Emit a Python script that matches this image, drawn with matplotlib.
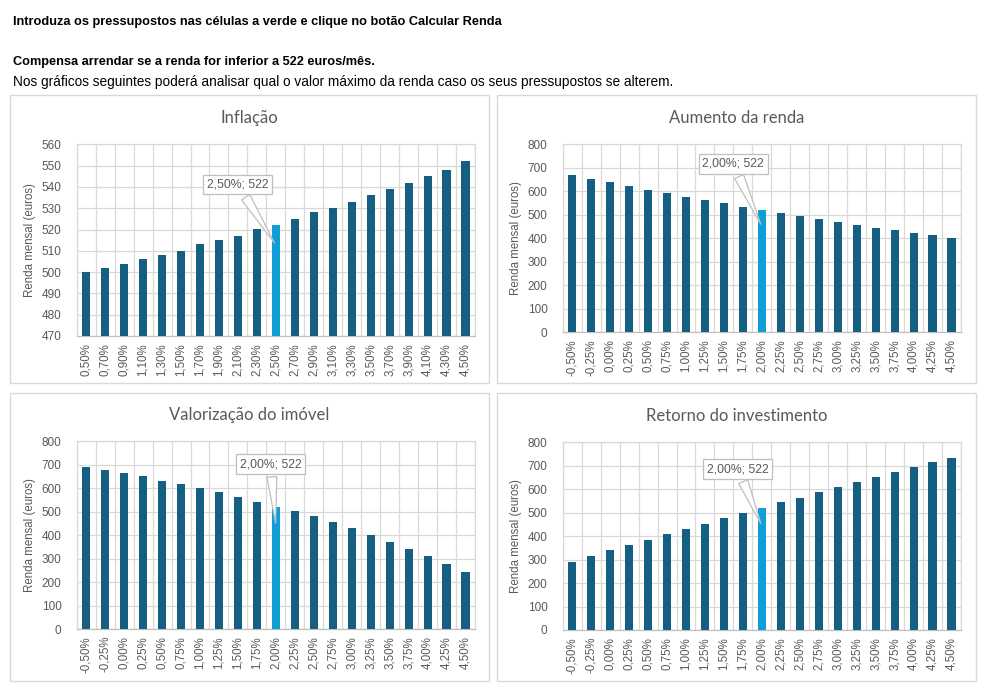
import matplotlib
matplotlib.use("Agg")
import matplotlib.pyplot as plt
from matplotlib.patches import Rectangle
from matplotlib.transforms import offset_copy

W, H = 989, 691

# ---------------- data ----------------
infl_labels = ["0,50%", "0,70%", "0,90%", "1,10%", "1,30%", "1,50%", "1,70%", "1,90%", "2,10%", "2,30%",
               "2,50%", "2,70%", "2,90%", "3,10%", "3,30%", "3,50%", "3,70%", "3,90%", "4,10%", "4,30%", "4,50%"]
infl_values = [500, 502, 504, 506, 508, 510, 513, 515, 517, 520, 522, 525, 528, 530, 533, 536, 539, 542, 545, 548, 552]

pct_labels = ["-0,50%", "-0,25%", "0,00%", "0,25%", "0,50%", "0,75%", "1,00%", "1,25%", "1,50%", "1,75%",
              "2,00%", "2,25%", "2,50%", "2,75%", "3,00%", "3,25%", "3,50%", "3,75%", "4,00%", "4,25%", "4,50%"]
aumento_values = [670, 653, 640, 623, 607, 593, 577, 563, 551, 535, 522, 509, 497, 483, 471, 458, 445, 436, 424, 412, 403]
valor_values = [691, 678, 666, 650, 632, 619, 602, 582, 564, 543, 522, 501, 480, 455, 429, 399, 369, 340, 310, 276, 241]
retorno_values = [291, 314, 339, 364, 385, 410, 432, 453, 479, 500, 522, 547, 564, 590, 610, 632, 653, 675, 695, 716, 733]

highlight_idx = 10
titles = ["Inflação", "Aumento da renda", "Valorização do imóvel", "Retorno do investimento"]
ylims = [(470, 560, 10), (0, 800, 100), (0, 800, 100), (0, 800, 100)]
callouts = ["2,50%; 522", "2,00%; 522", "2,00%; 522", "2,00%; 522"]

# ---------------- style ----------------
DARK = "#156082"
LIGHT = "#0F9ED5"
GRID = "#D9D9D9"
TXT = "#595959"
TICKFONT = ["Liberation Sans", "DejaVu Sans"]
TITLEFONT = ["Lato", "DejaVu Sans"]
HEADFONT = ["Liberation Sans", "DejaVu Sans"]

fig = plt.figure(figsize=(W / 100, H / 100), dpi=100)
fig.patch.set_facecolor("white")

def fx(px):
    return px / W

def fy(py):
    return 1 - py / H

# header text
fig.text(fx(13), fy(22), "Introduza os pressupostos nas células a verde e clique no botão Calcular Renda",
         fontsize=9.2, fontweight="bold", family=HEADFONT, va="center", ha="left", color="black")
fig.text(fx(13), fy(62), "Compensa arrendar se a renda for inferior a 522 euros/mês.",
         fontsize=9.2, fontweight="bold", family=HEADFONT, va="center", ha="left", color="black")
fig.text(fx(13), fy(82), "Nos gráficos seguintes poderá analisar qual o valor máximo da renda caso os seus pressupostos se alterem.",
         fontsize=9.8, family=HEADFONT, va="center", ha="left", color="black")

panels = [(10, 95, 489, 383), (497, 95, 976, 383), (10, 393, 489, 681), (497, 393, 976, 681)]
axes_px = [(76.7, 144.3, 475, 336), (562.7, 144.3, 961, 332.3), (76.7, 441.3, 475, 629), (562.7, 442.3, 961, 630)]
title_y = [117.7, 117.7, 414.7, 415.7]
# callout: text offset (pixels, from tip) and tip depth below bar top (pixels)
callout_geom = [(-38, 60.5, 20), (-28.5, 62.7, 17), (-5, 62, 19.5), (-24, 57, 18.5)]

series = [(infl_labels, infl_values), (pct_labels, aumento_values),
          (pct_labels, valor_values), (pct_labels, retorno_values)]

for k in range(4):
    x0, y0, x1, y1 = panels[k]
    fig.patches.append(Rectangle((fx(x0), fy(y1)), fx(x1 - x0), (y1 - y0) / H,
                                 transform=fig.transFigure, fill=False, ec=GRID, lw=1.0))
    fig.text(fx((x0 + x1) / 2), fy(title_y[k]), titles[k], fontsize=12, family=TITLEFONT,
             color=TXT, ha="center", va="center")

    ax0, ay0, ax1, ay1 = axes_px[k]
    ax = fig.add_axes([fx(ax0), fy(ay1), fx(ax1 - ax0), (ay1 - ay0) / H])
    labels, values = series[k]
    n = len(values)
    xs = list(range(n))
    colors = [LIGHT if i == highlight_idx else DARK for i in xs]
    lo, hi, step = ylims[k]
    ax.bar(xs, [v - lo for v in values], bottom=lo, width=0.43, color=colors, zorder=3)
    ax.set_xlim(-0.5, n - 0.5)
    ax.set_ylim(lo, hi)
    ax.set_yticks(list(range(lo, hi + 1, step)))
    ax.set_xticks(xs)
    ax.set_xticklabels(labels, rotation=90, fontsize=8.3, family=TICKFONT, color=TXT)
    for t in ax.get_yticklabels():
        t.set_fontsize(8.5)
        t.set_family(TICKFONT)
        t.set_color(TXT)
    ax.tick_params(axis="both", length=0)
    ax.tick_params(axis="y", pad=11)
    ax.tick_params(axis="x", pad=5)
    # grid: horizontal at ticks, vertical at category boundaries
    ax.yaxis.grid(True, color=GRID, lw=0.9, zorder=0)
    for b in range(n + 1):
        ax.axvline(b - 0.5, color=GRID, lw=0.9, zorder=0)
    for s in ["left", "right", "top"]:
        ax.spines[s].set_color(GRID)
        ax.spines[s].set_linewidth(0.9)
    ax.spines["bottom"].set_color("#BFBFBF")
    ax.spines["bottom"].set_linewidth(0.9)
    ax.set_ylabel("Renda mensal (euros)", fontsize=8.3, family=TICKFONT, color=TXT)
    ax.yaxis.set_label_coords(-(41) / (ax1 - ax0), 0.5)

    dx, dy, depth = callout_geom[k]
    tip_tr = offset_copy(ax.transData, fig=fig, x=0, y=-depth, units="dots")
    ax.annotate(callouts[k], xy=(highlight_idx, values[highlight_idx]), xycoords=tip_tr,
                xytext=(dx, dy), textcoords="offset pixels",
                fontsize=8.8, family=TICKFONT, color=TXT, ha="center", va="center",
                bbox=dict(boxstyle="square,pad=0.3", fc="white", ec="#BFBFBF", lw=0.9),
                arrowprops=dict(arrowstyle="wedge,tail_width=0.8,shrink_factor=0.5",
                                fc="white", ec="#BFBFBF", lw=0.9),
                zorder=5, annotation_clip=False)

fig.savefig("out.png", dpi=100, facecolor="white")
